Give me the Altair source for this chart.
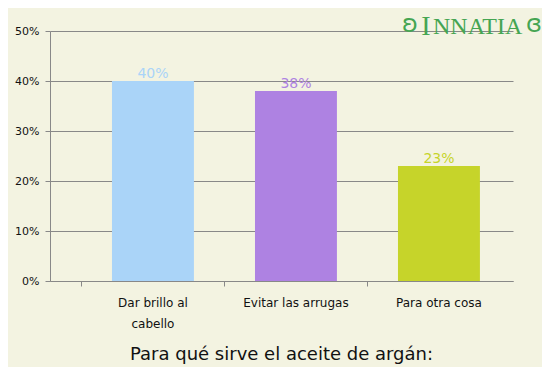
import altair as alt
import pandas as pd

categories = ["Dar brillo al cabello", "Evitar las arrugas", "Para otra cosa"]
values = [40, 38, 23]
colors = ["#aad4f8", "#ae82e2", "#c6d42a"]
labels = ["40%", "38%", "23%"]

df = pd.DataFrame({"cat": categories, "val": values, "color": colors, "lab": labels})

FONT = "DejaVu Sans"

x = alt.X("cat:N", sort=categories, title=None,
          scale=alt.Scale(paddingInner=0.427, paddingOuter=0.3324, align=0.652),
          axis=alt.Axis(labelAngle=0, labelFont=FONT, labelFontSize=12, labelColor="#111",
                        labelExpr="datum.label == 'Dar brillo al cabello' ? ['Dar brillo al', 'cabello'] : datum.label",
                        labelLineHeight=21, labelPadding=11, tickSize=5, tickColor="#888",
                        bandPosition=-0.372, domainColor="#888", labelLimit=200))

y = alt.Y("val:Q", title=None,
          scale=alt.Scale(domain=[0, 50]),
          axis=alt.Axis(values=[0, 10, 20, 30, 40, 50], labelExpr="datum.value + '%'",
                        labelFont=FONT, labelFontSize=11, labelColor="#111", labelPadding=6,
                        tickSize=5, tickColor="#888", domainColor="#888",
                        grid=True, gridColor="#888", gridOpacity=1))

bars = alt.Chart(df).mark_bar().encode(
    x=x, y=y, color=alt.Color("color:N", scale=None)
)

text = alt.Chart(df).mark_text(baseline="bottom", dy=0, font=FONT, fontSize=14).encode(
    x=alt.X("cat:N", sort=categories), y="val:Q", text="lab:N",
    color=alt.Color("color:N", scale=None)
)

logo_green = "#45a552"
logo_i = alt.Chart(pd.DataFrame({"t": ["I"]})).mark_text(
    font="Liberation Serif", fontSize=28, color=logo_green, baseline="alphabetic", align="center"
).encode(text="t:N", x=alt.value(376), y=alt.value(4))
logo_rest = alt.Chart(pd.DataFrame({"t": ["NNATIA"]})).mark_text(
    font="Liberation Serif", fontSize=24, color=logo_green, baseline="alphabetic", align="left"
).encode(text="t:N", x=alt.value(383), y=alt.value(3))
logo_l = alt.Chart(pd.DataFrame({"t": ["ʚ"]})).mark_text(
    font="DejaVu Sans", fontSize=24, color=logo_green, baseline="alphabetic", align="center"
).encode(text="t:N", x=alt.value(360), y=alt.value(1))
logo_r = alt.Chart(pd.DataFrame({"t": ["ɞ"]})).mark_text(
    font="DejaVu Sans", fontSize=24, color=logo_green, baseline="alphabetic", align="center"
).encode(text="t:N", x=alt.value(484), y=alt.value(1))

chart = alt.layer(bars, text, logo_l, logo_i, logo_rest, logo_r).properties(
    width=463, height=250,
    background="#f3f3e1",
    padding={"left": 42, "top": 23, "right": 29, "bottom": 86},
    autosize=alt.AutoSizeParams(type="none"),
    title=alt.TitleParams("Para qué sirve el aceite de argán:", orient="bottom", anchor="middle",
                          font=FONT, fontSize=18, fontWeight="normal", color="#111", offset=17)
).configure_view(stroke=None)

chart.save("out.html", embed_options={"renderer": "svg", "actions": False})
